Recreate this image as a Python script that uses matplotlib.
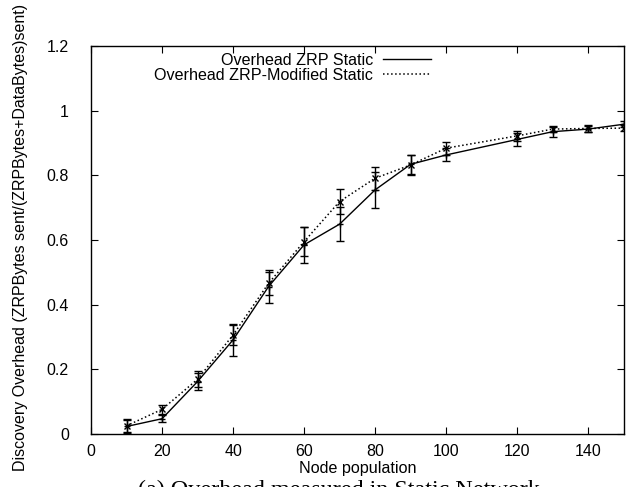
import matplotlib
matplotlib.use('Agg')
import matplotlib.pyplot as plt
from matplotlib.lines import Line2D

# node population
nodes = [10, 20, 30, 40, 50, 60, 70, 80, 90, 100, 120, 130, 140, 150]

# Overhead ZRP Static
zrp = [0.023, 0.047, 0.162, 0.291, 0.456, 0.585, 0.649, 0.755, 0.834, 0.863, 0.911, 0.935, 0.943, 0.958]
zrp_err = [0.02, 0.01, 0.025, 0.05, 0.05, 0.055, 0.053, 0.055, 0.03, 0.02, 0.02, 0.015, 0.01, 0.01]

# Overhead ZRP-Modified Static
zrp_mod = [0.025, 0.076, 0.169, 0.306, 0.466, 0.595, 0.719, 0.791, 0.832, 0.884, 0.922, 0.943, 0.945, 0.946]
zrp_mod_err = [0.02, 0.015, 0.025, 0.03, 0.035, 0.045, 0.04, 0.035, 0.03, 0.02, 0.015, 0.01, 0.01, 0.01]

x_ticks = [0, 20, 40, 60, 80, 100, 120, 140]
y_ticks = [0, 0.2, 0.4, 0.6, 0.8, 1.0, 1.2]
y_tick_labels = ['0', '0.2', '0.4', '0.6', '0.8', '1', '1.2']

plt.rcParams['font.family'] = ['Liberation Sans', 'DejaVu Sans']

fig = plt.figure(figsize=(6.41, 4.87), dpi=100)
ax = fig.add_axes([0.142, 0.109, 0.831, 0.7965])

ax.errorbar(nodes, zrp, yerr=zrp_err, color='black', linestyle='-', linewidth=1,
            marker='+', markersize=5, capsize=3, elinewidth=1, capthick=1)
ax.errorbar(nodes, zrp_mod, yerr=zrp_mod_err, color='black', linestyle=':', linewidth=1.1,
            marker='x', markersize=5, capsize=3, elinewidth=1, capthick=1)

ax.set_xlim(0, 150)
ax.set_ylim(0, 1.2)
ax.set_xticks(x_ticks)
ax.set_yticks(y_ticks)
ax.set_yticklabels(y_tick_labels)
ax.tick_params(direction='in', top=True, right=True, length=5, labelsize=11.5)
ax.tick_params(axis='y', pad=16)
ax.tick_params(axis='x', pad=7)
for s in ax.spines.values():
    s.set_linewidth(1)

ax.set_xlabel('Node population', fontsize=11.6, labelpad=2)
ax.set_ylabel('Discovery Overhead (ZRPBytes sent/(ZRPBytes+DataBytes)sent)', fontsize=11.5)
ax.yaxis.set_label_coords(-0.118, 0.506)

handles = [Line2D([], [], color='black', linestyle='-', linewidth=1),
           Line2D([], [], color='black', linestyle=':', linewidth=1.1)]
ax.legend(handles, ['Overhead ZRP Static', 'Overhead ZRP-Modified Static'],
          loc='upper right', bbox_to_anchor=(0.66, 1.012), frameon=False, markerfirst=False,
          fontsize=11.6, handlelength=3.0, handletextpad=0.6, labelspacing=0.0, borderaxespad=0.3)

fig.text(0.528, 0.014, '(a) Overhead measured in Static Network', family=['Liberation Serif'],
         fontsize=17.4, ha='center', va='top')

fig.savefig('out.png', dpi=100)
